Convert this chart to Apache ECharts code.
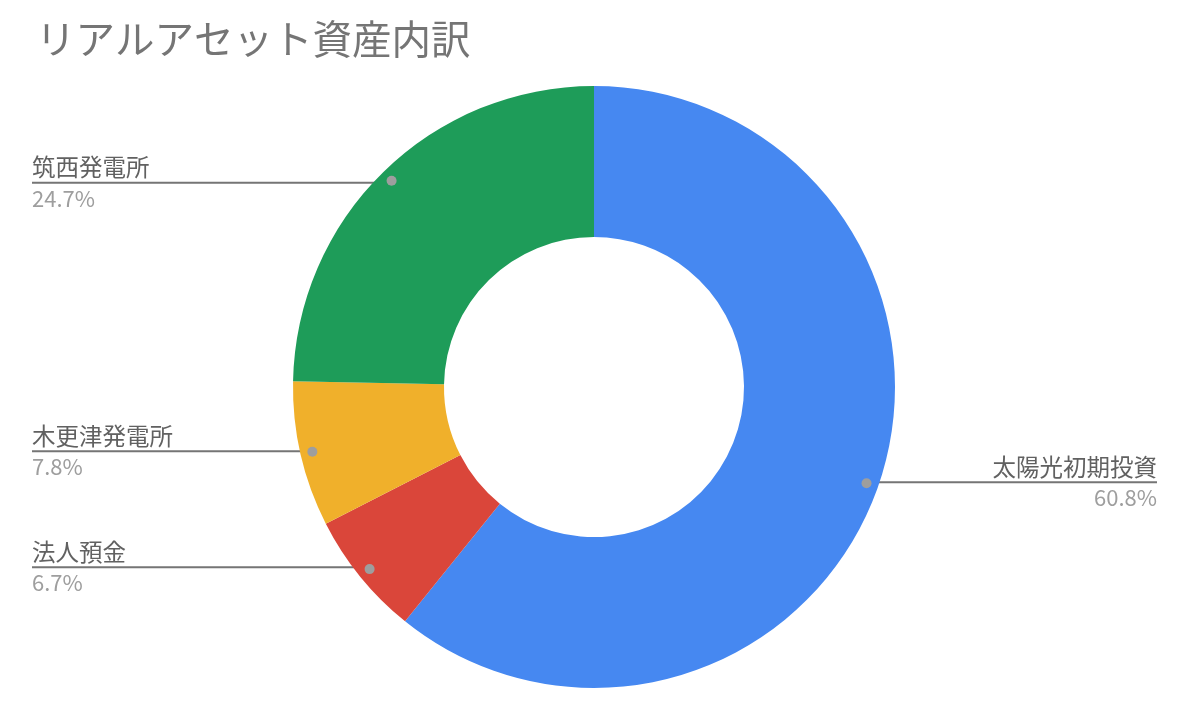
<!DOCTYPE html>
<html>
<head>
<meta charset="utf-8">
<script src="https://cdn.jsdelivr.net/npm/echarts@6/dist/echarts.min.js"></script>
<style>
  html, body { margin: 0; padding: 0; background: #fff; }
  #chart { width: 1184px; height: 706px; }
</style>
</head>
<body>
<div id="chart"></div>
<script>
const titleText = 'リアルアセット資産内訳';
const categories = ['太陽光初期投資', '法人預金', '木更津発電所', '筑西発電所'];
const values = [60.8, 6.7, 7.8, 24.7];
const colors = ['#4688f1', '#da463a', '#f0b02b', '#1e9c59'];

const FONT = '"Noto Sans CJK JP", "Noto Sans", sans-serif';
const data = categories.map((c, i) => ({ name: c, value: values[i] }));
const CX = 594, CY = 387;
const LEFT_X = 32, RIGHT_X = 1157;

const chart = echarts.init(document.getElementById('chart'), null, { renderer: 'canvas' });
chart.setOption({
  backgroundColor: '#ffffff',
  animation: false,
  title: {
    text: titleText,
    left: 31, top: 14,
    textStyle: { fontFamily: FONT, fontSize: 39.5, fontWeight: 'normal', color: '#757575' }
  },
  series: [
    {
      type: 'pie',
      silent: true,
      center: [CX, CY],
      radius: [150, 301],
      startAngle: 90,
      clockwise: true,
      label: { show: false },
      labelLine: { show: false },
      data: data.map((d, i) => ({ ...d, itemStyle: { color: colors[i] } }))
    },
    {
      type: 'pie',
      silent: true,
      center: [CX, CY],
      radius: [0, 286],
      startAngle: 90,
      clockwise: true,
      itemStyle: { color: 'rgba(0,0,0,0)' },
      label: {
        show: true,
        position: 'outside',
        formatter: p => '{n|' + p.name + '}\n{p|' + p.value.toFixed(1) + '%}',
        rich: {
          n: { fontFamily: FONT, fontSize: 23.5, color: '#616161', lineHeight: 31 },
          p: { fontFamily: FONT, fontSize: 22, color: '#9e9e9e', lineHeight: 31 }
        }
      },
      labelLine: { show: true, length: 0, length2: 10, lineStyle: { color: '#757575', width: 2 } },
      labelLayout: function (params) {
        const pts = params.labelLinePoints;
        if (!pts) return {};
        const ax = pts[0][0], ay = pts[0][1];
        const left = ax < CX;
        const ex = left ? LEFT_X : RIGHT_X;
        return {
          x: ex,
          y: ay,
          align: left ? 'left' : 'right',
          verticalAlign: 'middle',
          labelLinePoints: [[ax, ay], [ax, ay], [ex, ay]]
        };
      },
      data: data
    },
    {
      type: 'pie',
      silent: true,
      center: [CX, CY],
      radius: [283, 289],
      startAngle: 90,
      clockwise: true,
      itemStyle: { color: 'rgba(0,0,0,0)' },
      label: {
        show: true,
        position: 'inside',
        formatter: '{a| }',
        rich: { a: { width: 10, height: 10, borderRadius: 5, backgroundColor: '#9e9e9e', fontSize: 1 } }
      },
      labelLine: { show: false },
      data: data
    }
  ]
});
</script>
</body>
</html>
